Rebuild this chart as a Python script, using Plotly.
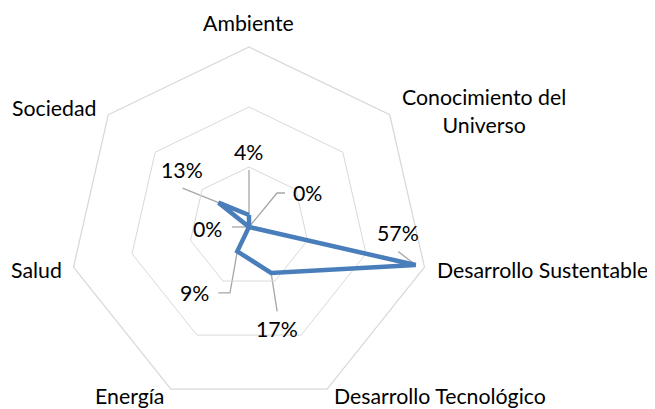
import math
import plotly.graph_objects as go

# ---- data ----
categories = ["Ambiente", "Conocimiento del Universo", "Desarrollo Sustentable",
              "Desarrollo Tecnológico", "Energía", "Salud", "Sociedad"]
category_text = ["Ambiente", "Conocimiento del<br>Universo", "Desarrollo Sustentable",
                 "Desarrollo Tecnológico", "Energía", "Salud", "Sociedad"]
values = [4, 0, 57, 17, 9, 0, 13]
value_labels = ["4%", "0%", "57%", "17%", "9%", "0%", "13%"]
radial_ticks = [0, 20, 40, 60]

# ---- layout geometry (pixels, figure coordinates; page body adds an 8px margin) ----
W, H = 655, 409
CX, CY, R = 241, 219, 180
RMAX = radial_ticks[-1]
PX = R / RMAX
dom_x = [(CX - R) / W, (CX + R) / W]
dom_y = [(H - CY - R) / H, (H - CY + R) / H]

FONT = dict(family="Lato, Calibri, Carlito, sans-serif", size=21.3, color="#000000")
GRID = "#d9d9d9"
LINE = "#4a7ebb"
LEADER = "#a6a6a6"

n = len(categories)
def xy(v, i):
    a = math.radians(i * 360.0 / n)
    return v * math.sin(a), v * math.cos(a)

# category label placement: (xanchor, dx, dy) pixel offsets from outer vertex (screen, y down)
cat_style = [("center", -1, -24), ("left", 10, -4), ("left", 11, 3),
             ("left", 4.7, 6.5), ("right", -5, 6.5), ("right", -10, 2.5), ("right", -9.3, -6.5)]
# data label offsets from data point (pixels, y down)
lab_off = [(-1, -63), (58, -34), (-17.5, -32.5), (6, 56.5), (-43, 42), (-41.5, 1.5), (-36.5, -32.5)]
# leader line vertices relative to data point (pixels, y down)
leaders = [[(0, -45), (0, 0)],
           [(0, 0), (28, -34), (36, -34)],
           [(-17.5, -13.5), (0, 0)],
           [(0, 0), (6, 38.5)],
           [(-19, 41.5), (-7.3, 41.5), (0, 0)],
           [(-17, 0), (0, 0)],
           [(-36, -14.5), (0, 0)]]

fig = go.Figure()

# leader lines on a cartesian overlay that shares the polar frame
lx, ly = [], []
for i, v in enumerate(values):
    px0, py0 = xy(v, i)
    for ox, oy in leaders[i]:
        lx.append(px0 + ox / PX)
        ly.append(py0 - oy / PX)
    lx.append(None)
    ly.append(None)
fig.add_trace(go.Scatter(x=lx, y=ly, mode="lines", line=dict(color=LEADER, width=1.3),
                         hoverinfo="skip", showlegend=False, xaxis="x", yaxis="y"))

fig.add_trace(go.Scatterpolar(
    r=values + values[:1], theta=categories + categories[:1], mode="lines",
    line=dict(color=LINE, width=4.5), showlegend=False, hoverinfo="skip"))

annotations = []
for i, c in enumerate(category_text):
    vx, vy = xy(RMAX, i)
    xa, dx, dy = cat_style[i]
    annotations.append(dict(x=vx, y=vy, xref="x", yref="y", text=c, showarrow=False,
                            xanchor=xa, yanchor="middle", xshift=dx, yshift=-dy,
                            align="center", font=FONT))
for i, v in enumerate(values):
    px0, py0 = xy(v, i)
    dx, dy = lab_off[i]
    annotations.append(dict(x=px0, y=py0, xref="x", yref="y", text=value_labels[i],
                            showarrow=False, xanchor="center", yanchor="middle",
                            xshift=dx, yshift=-dy, font=FONT))

fig.update_layout(
    width=W, height=H, margin=dict(l=0, r=0, t=0, b=0),
    paper_bgcolor="white", plot_bgcolor="rgba(0,0,0,0)",
    showlegend=False,
    polar=dict(
        domain=dict(x=dom_x, y=dom_y),
        bgcolor="rgba(0,0,0,0)",
        gridshape="linear",
        radialaxis=dict(range=[0, RMAX], tickvals=radial_ticks, showticklabels=False,
                        ticks="", showline=False, gridcolor=GRID, gridwidth=1.3),
        angularaxis=dict(rotation=90, direction="clockwise", showgrid=False,
                         showticklabels=False, ticks="", showline=True,
                         linecolor=GRID, linewidth=1.3),
    ),
    xaxis=dict(domain=dom_x, range=[-RMAX, RMAX], visible=False, fixedrange=True),
    yaxis=dict(domain=dom_y, range=[-RMAX, RMAX], visible=False, fixedrange=True),
    annotations=annotations,
)

fig.write_html("out.html")
